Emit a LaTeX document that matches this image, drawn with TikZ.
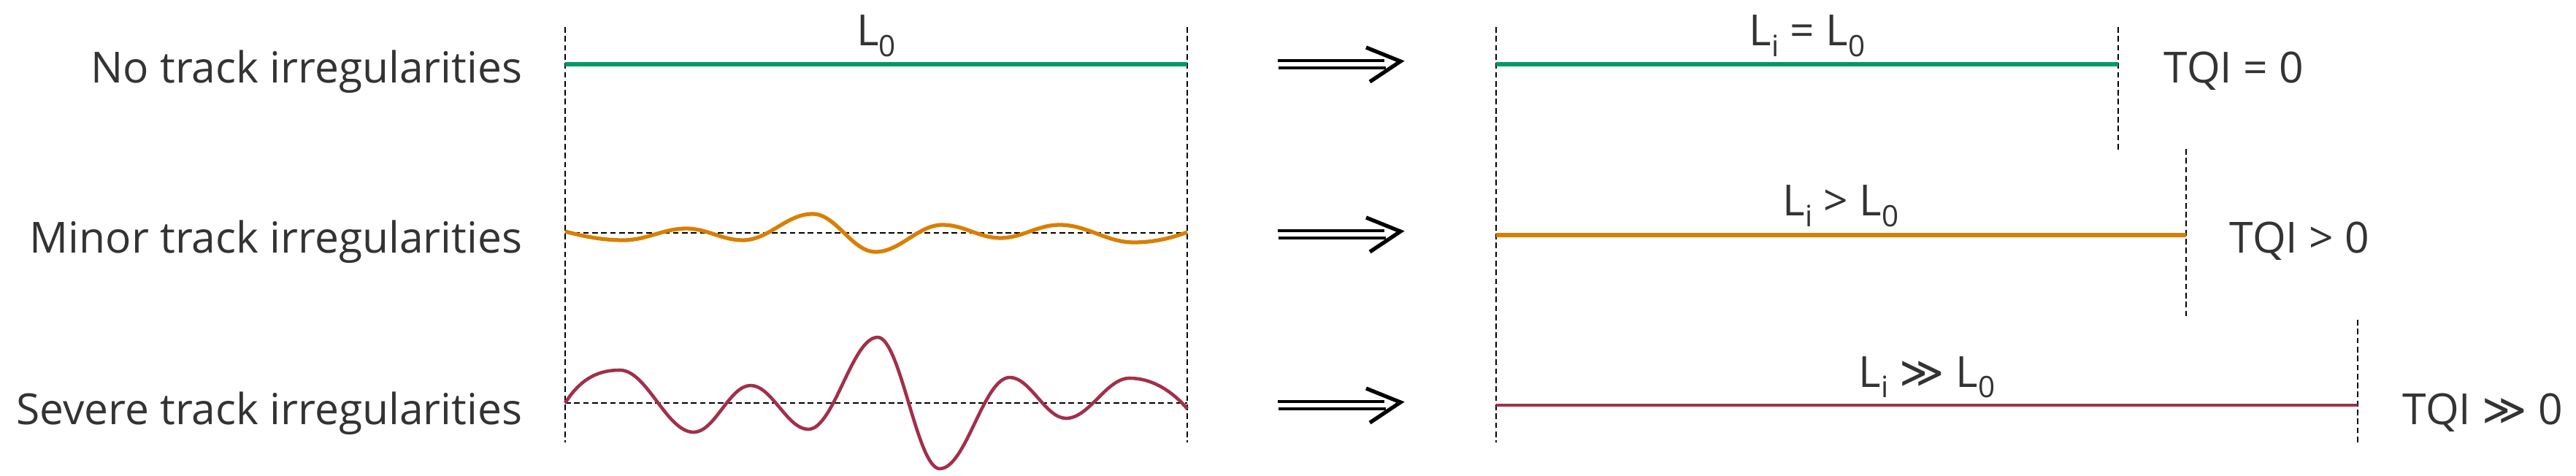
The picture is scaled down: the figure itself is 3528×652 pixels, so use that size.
\documentclass[tikz,border=0pt]{standalone}
\usepackage{fontspec}
\setmainfont{Open Sans}
\newfontfamily\symf{DejaVu Sans}
\usetikzlibrary{calc}
\definecolor{tqgreen}{RGB}{0,155,98}
\definecolor{tqorange}{RGB}{217,127,0}
\definecolor{tqred}{RGB}{161,48,74}
\definecolor{txtgray}{RGB}{51,51,51}
\newcommand\lsub[1]{\raisebox{-0.25em}{\fontsize{11.5pt}{11.5pt}\selectfont #1}}
\newcommand\mygg{{\symf ≫}}
\begin{document}
\begin{tikzpicture}[x=0.01cm,y=-0.01cm,
  txt/.style={font=\fontsize{16.7pt}{19pt}\selectfont, text=txtgray, inner sep=0pt},
  dashln/.style={black, line width=0.55pt, dash pattern=on 2.2pt off 1.3pt},
  trackg/.style={tqgreen, line width=1.7pt},
  tracko/.style={tqorange, line width=1.5pt},
  trackr/.style={tqred, line width=1.3pt},
  arrbar/.style={black, line width=1.3pt},
  arrhead/.style={black, line width=1.5pt, line join=miter}
]
\useasboundingbox (0,0) rectangle (3528,652);

% left labels
\node[txt, anchor=base east] (lab1) at (716,114) {No track irregularities};
\node[txt, anchor=base east] (lab2) at (716,347) {Minor track irregularities};
\node[txt, anchor=base east] (lab3) at (716,581) {Severe track irregularities};

% left frame
\coordinate (lt) at (774,37);  \coordinate (lb) at (774,606);
\coordinate (rt) at (1626,37); \coordinate (rb) at (1626,606);
\draw[dashln] (lt) -- (lb);
\draw[dashln] (rt) -- (rb);
\node[txt, anchor=base] (l0) at (1200,63) {L\lsub{0}};

% row 1: straight track
\coordinate (g1) at (774,88); \coordinate (g2) at (1626,88);
\draw[trackg] (g1) -- (g2);

% row 2: minor irregularities
\coordinate (o1) at (774,319); \coordinate (o2) at (1626,319);
\draw[dashln] (o1) -- (o2);
\draw[tracko, line join=round] (774,317)
  .. controls (800,324) and (826,329) .. (854,329)
  .. controls (886,329) and (908,313) .. (940,313)
  .. controls (968,313) and (989,329) .. (1017,329)
  .. controls (1053,329) and (1077,293) .. (1113,293)
  .. controls (1145,293) and (1167,345) .. (1199,345)
  .. controls (1233,345) and (1257,308) .. (1291,308)
  .. controls (1320,308) and (1341,326) .. (1370,326)
  .. controls (1400,326) and (1421,308) .. (1451,308)
  .. controls (1489,308) and (1515,332) .. (1553,332)
  .. controls (1580,332) and (1605,326) .. (1626,318);

% row 3: severe irregularities
\coordinate (s1) at (774,552); \coordinate (s2) at (1626,552);
\draw[dashln] (s1) -- (s2);
\draw[trackr, line join=round] (774,552)
  .. controls (797,516) and (822,507) .. (849,507)
  .. controls (886,507) and (913,592) .. (950,592)
  .. controls (979,592) and (999,528) .. (1028,528)
  .. controls (1057,528) and (1078,588) .. (1107,588)
  .. controls (1142,588) and (1167,462) .. (1202,462)
  .. controls (1233,462) and (1256,642) .. (1287,642)
  .. controls (1323,642) and (1347,517) .. (1383,517)
  .. controls (1411,517) and (1432,573) .. (1460,573)
  .. controls (1492,573) and (1515,518) .. (1547,518)
  .. controls (1577,518) and (1605,535) .. (1626,560);

% arrows
\foreach \n/\yy in {1/87,2/320,3/554}{
  \coordinate (a\n) at (1750,\yy);
  \begin{scope}[shift={(a\n)}]
    \draw[arrbar] (0,-4) -- (146,-4);
    \draw[arrbar] (1,6) -- (148,6);
    \draw[arrhead] (121,-22) -- (168,-3) -- (126,25);
  \end{scope}
}

% right frame
\coordinate (R0t) at (2049,37); \coordinate (R0b) at (2049,606);
\draw[dashln] (R0t) -- (R0b);
\coordinate (R1t) at (2901,37);  \coordinate (R1b) at (2901,205);
\coordinate (R2t) at (2994,204); \coordinate (R2b) at (2994,436);
\coordinate (R3t) at (3229,438); \coordinate (R3b) at (3229,606);
\draw[dashln] (R1t) -- (R1b);
\draw[dashln] (R2t) -- (R2b);
\draw[dashln] (R3t) -- (R3b);

\coordinate (rg1) at (2049,88);  \coordinate (rg2) at (2901,88);
\coordinate (ro1) at (2049,322); \coordinate (ro2) at (2994,322);
\coordinate (rr1) at (2049,555); \coordinate (rr2) at (3229,555);
\draw[trackg] (rg1) -- (rg2);
\draw[tracko] (ro1) -- (ro2);
\draw[trackr] (rr1) -- (rr2);

\node[txt, anchor=base] (li1) at (2475,63)  {L\lsub{i} = L\lsub{0}};
\node[txt, anchor=base] (li2) at (2521,296) {L\lsub{i} > L\lsub{0}};
\node[txt, anchor=base] (li3) at (2639,530) {L\lsub{i} \mygg{} L\lsub{0}};

\node[txt, anchor=base west] (tq1) at (2963,114) {TQI = 0};
\node[txt, anchor=base west] (tq2) at (3053,347) {TQI > 0};
\node[txt, anchor=base west] (tq3) at (3290,581) {TQI \mygg{} 0};
\end{tikzpicture}
\end{document}
